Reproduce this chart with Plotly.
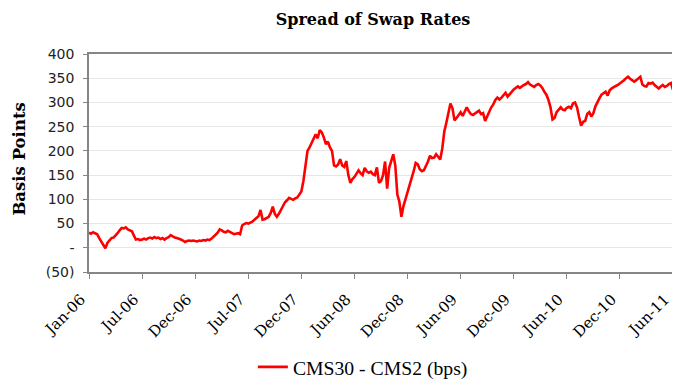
import plotly.graph_objects as go

# Weekly readings of the CMS30 - CMS2 spread (bps), Jan-06 .. Jun-11
spread_bps = [
    31, 29, 32, 30, 28, 20, 12, 5, -1, 10, 16, 20, 21, 25, 30, 36, 41, 40, 42, 38, 36, 34, 25, 17, 18, 16,
    17, 19, 17, 20, 21, 19, 22, 20, 21, 18, 20, 17, 20, 22, 26, 23, 21, 20, 19, 17, 15, 12, 14, 15, 14, 15,
    14, 13, 15, 14, 16, 15, 17, 16, 19, 24, 27, 31, 38, 36, 33, 32, 35, 33, 31, 28, 29, 30, 28, 46, 49, 51,
    50, 52, 54, 58, 62, 65, 78, 58, 59, 61, 64, 72, 85, 70, 64, 70, 78, 84, 94, 98, 103, 101, 99, 102, 104, 110,
    116, 138, 165, 200, 207, 216, 225, 234, 226, 243, 238, 228, 214, 219, 207, 200, 170, 168, 172, 183, 170, 167, 179, 150, 134, 142,
    146, 152, 160, 154, 150, 165, 158, 155, 157, 152, 150, 166, 134, 138, 150, 178, 122, 165, 182, 193, 170, 110, 95, 64, 86, 100,
    112, 130, 142, 158, 175, 172, 162, 158, 160, 168, 178, 190, 185, 186, 193, 188, 182, 205, 240, 258, 275, 298, 288, 263, 268, 275,
    280, 272, 283, 290, 282, 276, 274, 277, 279, 283, 276, 278, 262, 272, 282, 290, 296, 305, 310, 306, 310, 316, 320, 312, 318, 322,
    327, 331, 333, 330, 334, 336, 338, 342, 337, 335, 332, 336, 338, 335, 330, 322, 316, 305, 290, 265, 268, 280, 286, 290, 285, 284,
    289, 291, 288, 298, 300, 290, 270, 252, 260, 262, 276, 280, 271, 278, 292, 302, 309, 316, 320, 322, 314, 325, 329, 332, 334, 336,
    339, 342, 346, 350, 353, 349, 346, 343, 346, 349, 353, 337, 334, 333, 340, 339, 341, 336, 333, 329, 333, 336, 332, 334, 338, 340, 326,
]
week_index = list(range(len(spread_bps)))

x_tick_labels = ["Jan-06", "Jul-06", "Dec-06", "Jul-07", "Dec-07", "Jun-08",
                 "Dec-08", "Jun-09", "Dec-09", "Jun-10", "Dec-10", "Jun-11"]
x_tick_index = [0, 26, 52, 78, 104, 130, 156, 182, 208, 234, 260, 286]

y_tick_values = [-50, 0, 50, 100, 150, 200, 250, 300, 350, 400]
y_tick_labels = ["(50)", "-", "50", "100", "150", "200", "250", "300", "350", "400"]

# The page body adds an 8px offset, so the figure is 8px smaller on each axis.
W, H = 672, 371

fig = go.Figure()
fig.add_trace(go.Scatter(
    x=week_index, y=spread_bps, mode="lines",
    name="CMS30 - CMS2 (bps)",
    line=dict(color="#FF0000", width=2.6),
))

fig.update_layout(
    width=W, height=H,
    margin=dict(l=81, r=7, t=46, b=107, autoexpand=False),
    paper_bgcolor="white", plot_bgcolor="white",
    title=dict(text="<b>Spread of Swap Rates</b>", x=365 / W, xanchor="center",
               y=1 - 11 / H, yanchor="middle", pad=dict(t=0, b=0),
               font=dict(family="DejaVu Serif", size=16, color="black")),
    showlegend=True,
    legend=dict(orientation="h", x=0.469, xanchor="center", y=-0.436, yanchor="middle",
                font=dict(family="Liberation Serif", size=19.7, color="black"),
                bgcolor="rgba(0,0,0,0)"),
    annotations=[dict(text="<b>Basis Points</b>", xref="paper", yref="paper",
                      x=(1 - 81) / 584, y=0.518, xanchor="left", yanchor="middle",
                      textangle=-90, showarrow=False, borderpad=0,
                      font=dict(family="DejaVu Serif", size=16.5, color="black"))],
)

fig.update_xaxes(
    range=[0, 286], tickmode="array", tickvals=x_tick_index, ticktext=x_tick_labels,
    tickangle=-45, tickfont=dict(family="DejaVu Serif", size=15, color="black"),
    showgrid=False, zeroline=False, automargin=False,
    showline=True, mirror=True, linecolor="#868686", linewidth=1.5,
    ticks="outside", ticklen=5, tickcolor="#868686",
    ticklabelshift=-8, ticklabelstandoff=6,
)
fig.update_yaxes(
    range=[-50, 400], tickmode="array", tickvals=y_tick_values, ticktext=y_tick_labels,
    tickfont=dict(family="DejaVu Sans", size=14, color="#222"),
    showgrid=True, gridcolor="#e6e6e6", gridwidth=1, zeroline=False, automargin=False,
    showline=True, mirror=True, linecolor="#868686", linewidth=1.5,
    ticks="outside", ticklen=4, tickcolor="#868686", ticklabelstandoff=6,
)

fig.write_html("out.html")
